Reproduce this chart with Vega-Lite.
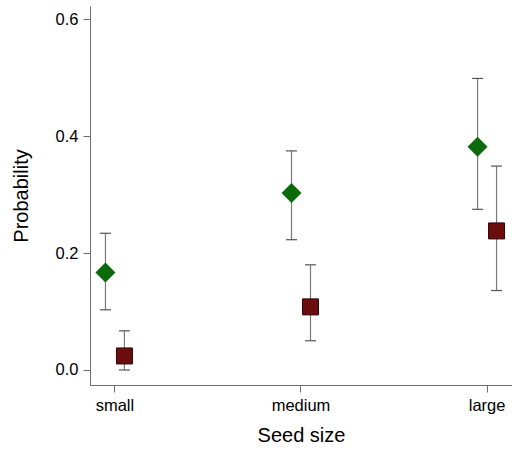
{
  "$schema": "https://vega.github.io/schema/vega-lite/v6.json",
  "width": 422,
  "height": 379,
  "autosize": "none",
  "padding": {"left": 90, "top": 6, "right": 0, "bottom": 65},
  "background": "white",
  "config": {
    "view": {"stroke": null},
    "font": "Liberation Sans",
    "axis": {
      "domainColor": "#6e6e6e",
      "tickColor": "#6e6e6e",
      "labelColor": "#000000",
      "titleColor": "#000000",
      "labelFontSize": 16.5,
      "titleFontSize": 20,
      "titleFontWeight": "normal",
      "grid": false,
      "tickSize": 7,
      "labelPadding": 5
    }
  },
  "data": {
    "values": [
      {"size": "small", "series": "A", "p": 0.167, "lo": 0.103, "hi": 0.234},
      {"size": "small", "series": "B", "p": 0.024, "lo": 0.0, "hi": 0.067},
      {"size": "medium", "series": "A", "p": 0.303, "lo": 0.223, "hi": 0.375},
      {"size": "medium", "series": "B", "p": 0.108, "lo": 0.05, "hi": 0.18},
      {"size": "large", "series": "A", "p": 0.382, "lo": 0.275, "hi": 0.499},
      {"size": "large", "series": "B", "p": 0.238, "lo": 0.136, "hi": 0.349}
    ]
  },
  "layer": [
    {
      "transform": [{"filter": "datum.series === 'A'"}],
      "layer": [
        {
          "mark": {"type": "rule", "color": "#7a7a7a", "strokeWidth": 1.2},
          "encoding": {
            "x": {"field": "size", "type": "nominal", "bandPosition": 0.245, "sort": ["small", "medium", "large"], "scale": {"paddingInner": 0.8, "paddingOuter": 0.034}, "title": "Seed size", "axis": {"labelAngle": 0, "titlePadding": 12}},
            "y": {"field": "lo", "type": "quantitative", "scale": {"domain": [-0.0257, 0.623], "nice": false, "zero": false}, "title": "Probability", "axis": {"values": [0, 0.2, 0.4, 0.6], "format": ".1f", "titlePadding": 24}},
            "y2": {"field": "hi"}
          }
        },
        {
          "mark": {"type": "point", "shape": "stroke", "size": 121, "filled": false, "color": "#555555", "strokeWidth": 1.2, "opacity": 1},
          "encoding": {
            "x": {"field": "size", "type": "nominal", "bandPosition": 0.245, "sort": ["small", "medium", "large"]},
            "y": {"field": "lo", "type": "quantitative"}
          }
        },
        {
          "mark": {"type": "point", "shape": "stroke", "size": 121, "filled": false, "color": "#555555", "strokeWidth": 1.2, "opacity": 1},
          "encoding": {
            "x": {"field": "size", "type": "nominal", "bandPosition": 0.245, "sort": ["small", "medium", "large"]},
            "y": {"field": "hi", "type": "quantitative"}
          }
        },
        {
          "mark": {"type": "point", "shape": "diamond", "filled": true, "size": 400, "color": "#0b6b0b", "opacity": 1},
          "encoding": {
            "x": {"field": "size", "type": "nominal", "bandPosition": 0.245, "sort": ["small", "medium", "large"]},
            "y": {"field": "p", "type": "quantitative"}
          }
        }
      ]
    },
    {
      "transform": [{"filter": "datum.series === 'B'"}],
      "layer": [
        {
          "mark": {"type": "rule", "color": "#7a7a7a", "strokeWidth": 1.2},
          "encoding": {
            "x": {"field": "size", "type": "nominal", "bandPosition": 0.755, "sort": ["small", "medium", "large"]},
            "y": {"field": "lo", "type": "quantitative"},
            "y2": {"field": "hi"}
          }
        },
        {
          "mark": {"type": "point", "shape": "stroke", "size": 121, "filled": false, "color": "#555555", "strokeWidth": 1.2, "opacity": 1},
          "encoding": {
            "x": {"field": "size", "type": "nominal", "bandPosition": 0.755, "sort": ["small", "medium", "large"]},
            "y": {"field": "lo", "type": "quantitative"}
          }
        },
        {
          "mark": {"type": "point", "shape": "stroke", "size": 121, "filled": false, "color": "#555555", "strokeWidth": 1.2, "opacity": 1},
          "encoding": {
            "x": {"field": "size", "type": "nominal", "bandPosition": 0.755, "sort": ["small", "medium", "large"]},
            "y": {"field": "hi", "type": "quantitative"}
          }
        },
        {
          "mark": {"type": "square", "size": 256, "color": "#6b0d0d", "filled": true, "stroke": "#2a0505", "strokeWidth": 1, "opacity": 1},
          "encoding": {
            "x": {"field": "size", "type": "nominal", "bandPosition": 0.755, "sort": ["small", "medium", "large"]},
            "y": {"field": "p", "type": "quantitative"}
          }
        }
      ]
    }
  ]
}
